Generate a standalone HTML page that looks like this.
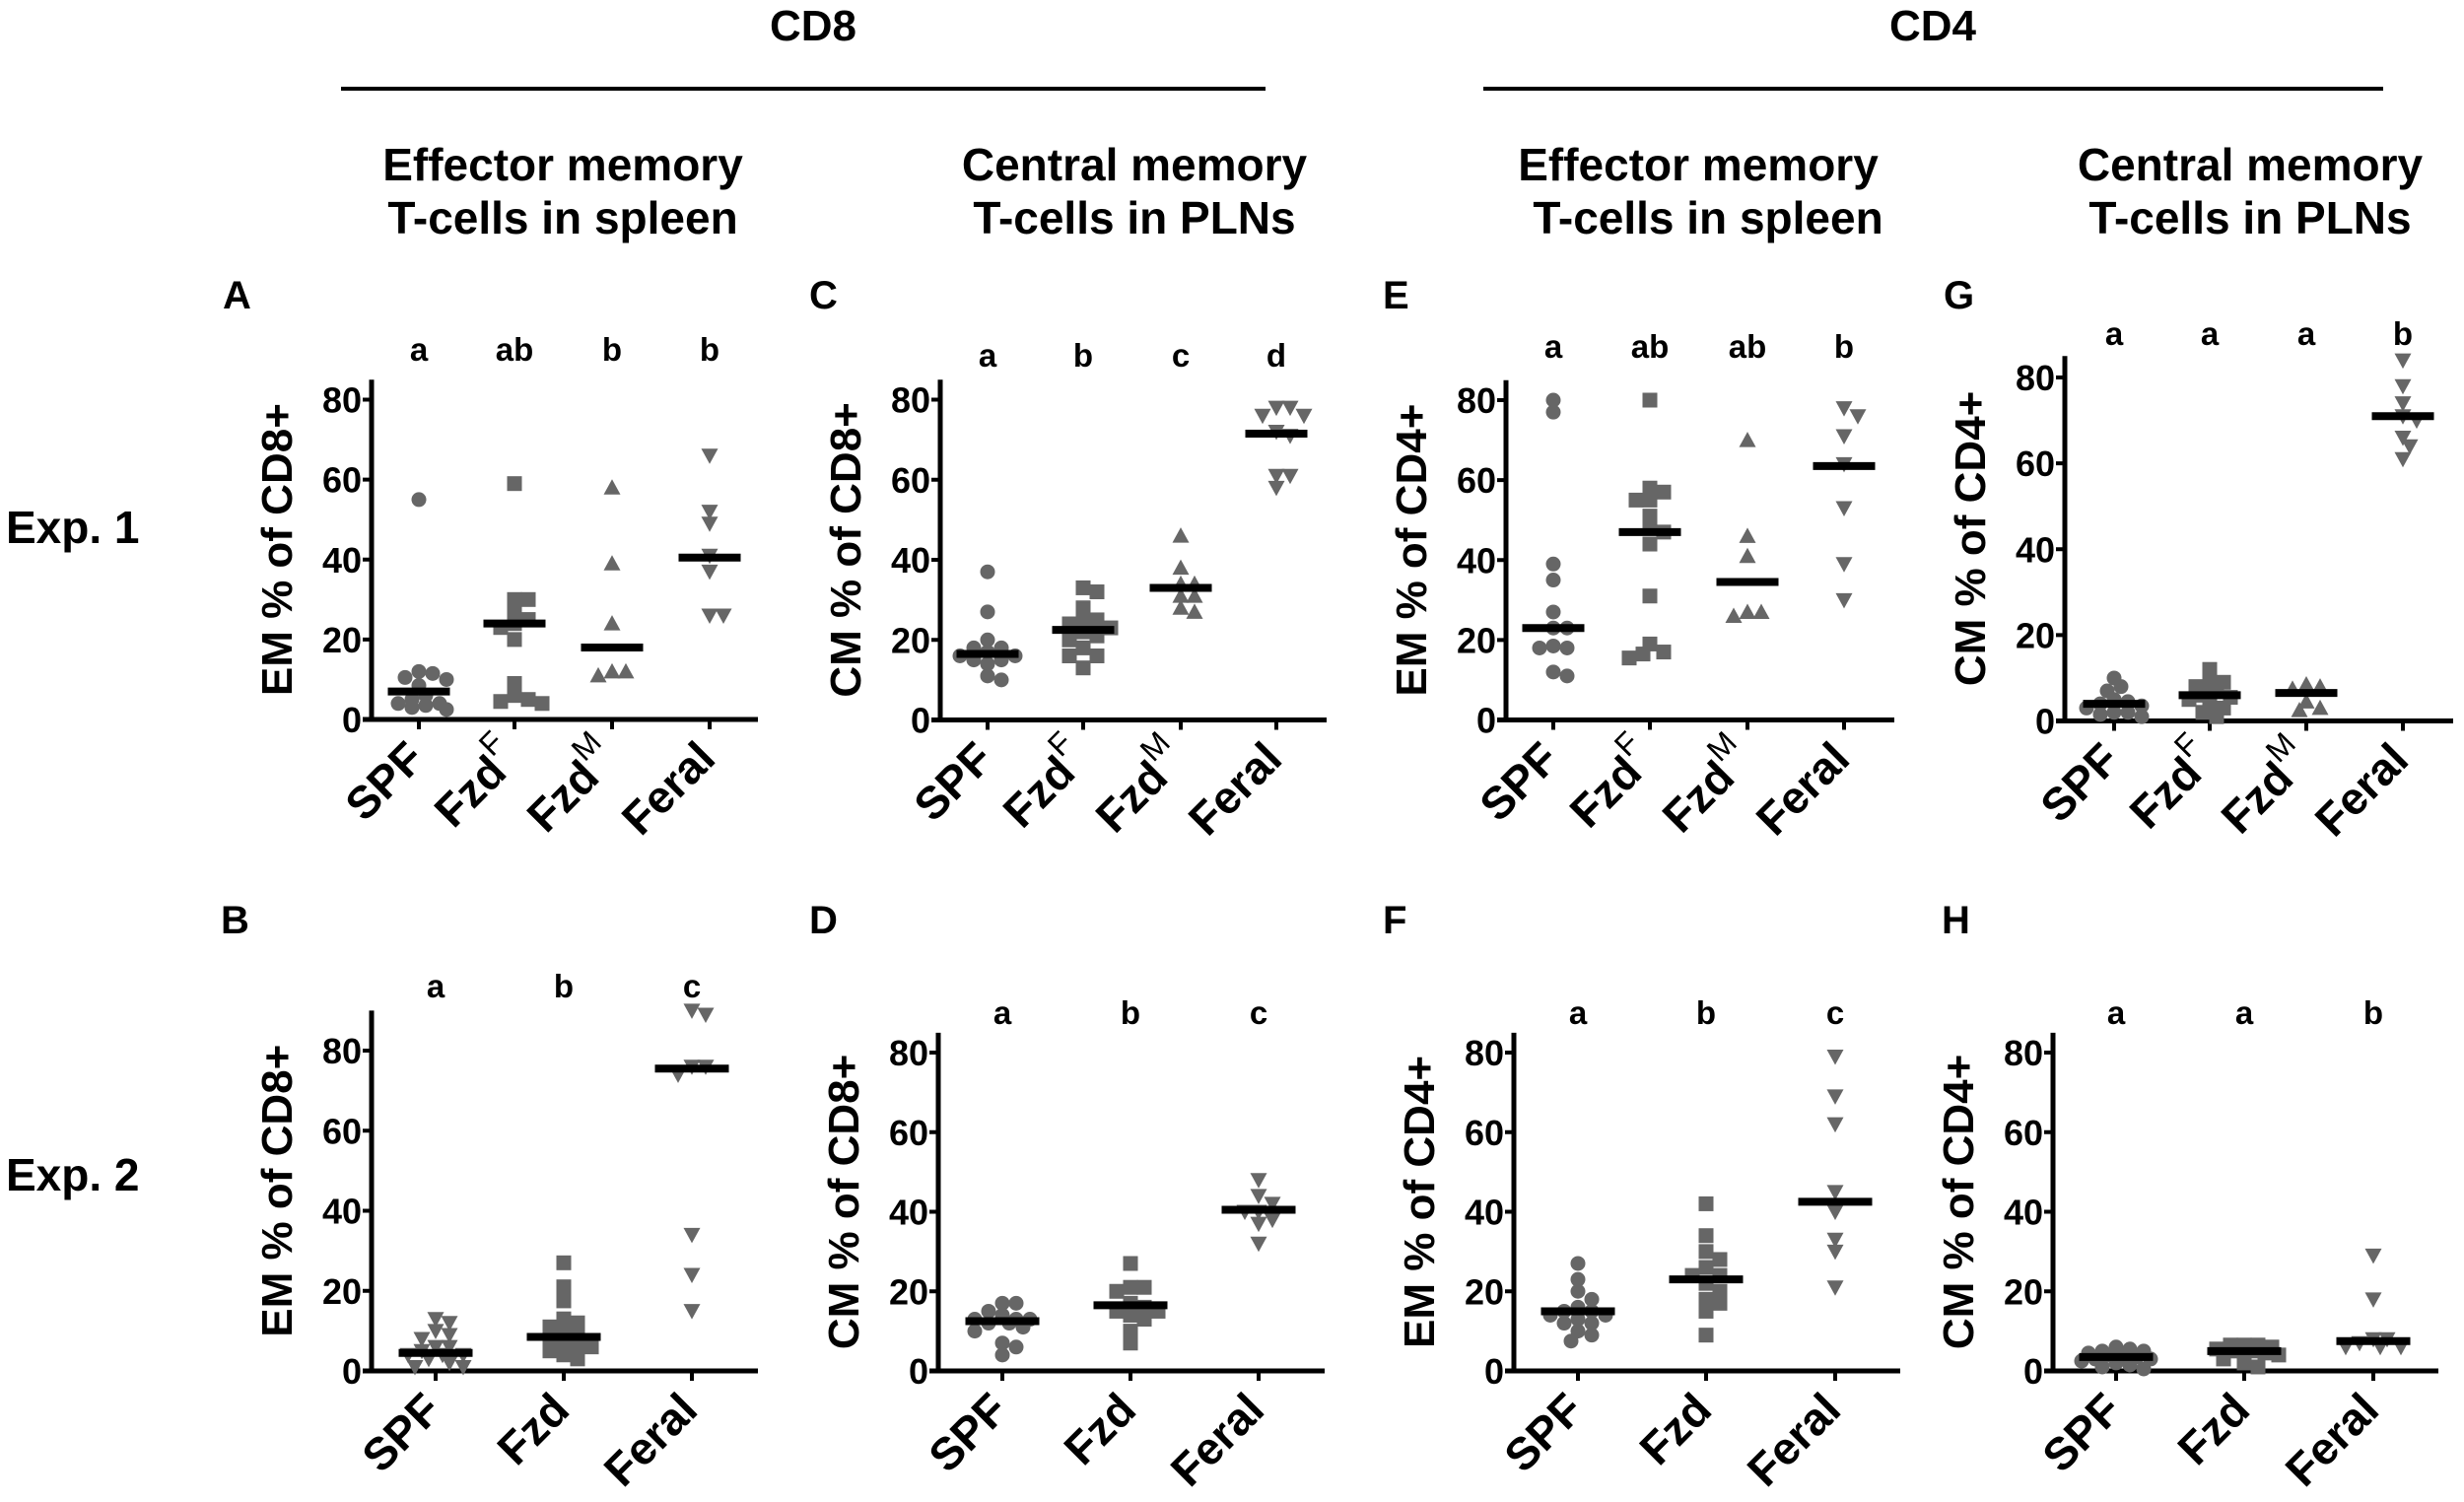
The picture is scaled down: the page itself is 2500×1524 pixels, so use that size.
<!DOCTYPE html>
<html><head><meta charset="utf-8"><style>
html,body{margin:0;padding:0;background:#fff}
svg{display:block;font-family:"Liberation Sans",Arial,sans-serif;font-weight:bold}
</style></head><body>
<svg id="fig" width="2500" height="1524" viewBox="0 0 2500 1524" xmlns="http://www.w3.org/2000/svg">
<g>
<text x="825" y="41" font-size="44" text-anchor="middle">CD8</text>
<line x1="346" y1="90" x2="1284" y2="90" stroke="#000" stroke-width="4"/>
<text x="1961" y="41" font-size="44" text-anchor="middle">CD4</text>
<line x1="1505" y1="90" x2="2418" y2="90" stroke="#000" stroke-width="4"/>
<text x="571" y="183" font-size="46" text-anchor="middle"><tspan x="571">Effector memory</tspan><tspan x="571" dy="54">T-cells in spleen</tspan></text>
<text x="1151" y="183" font-size="46" text-anchor="middle"><tspan x="1151">Central memory</tspan><tspan x="1151" dy="54">T-cells in PLNs</tspan></text>
<text x="1723" y="183" font-size="46" text-anchor="middle"><tspan x="1723">Effector memory</tspan><tspan x="1733" dy="54">T-cells in spleen</tspan></text>
<text x="2283" y="183" font-size="46" text-anchor="middle"><tspan x="2283">Central memory</tspan><tspan x="2283" dy="54">T-cells in PLNs</tspan></text>
<text x="6" y="551" font-size="46">Exp. 1</text>
<text x="6" y="1208" font-size="46">Exp. 2</text>
</g>
</svg>
<script>
// ---- data ----
const catsExp1 = ["SPF","FzdF","FzdM","Feral"];
const catsExp2 = ["SPF","Fzd","Feral"];
const yTicks = [0,20,40,60,80];
const lettersA = ["a","ab","b","b"];
const lettersB = ["a","b","c"];
const lettersC = ["a","b","c","d"];
const lettersD = ["a","b","c"];
const lettersE = ["a","ab","ab","b"];
const lettersF = ["a","b","c"];
const lettersG = ["a","a","a","b"];
const lettersH = ["a","a","b"];
const A_SPF=[55,11.5,12,10,10.5,8.5,6,5,4,3.5,3,2.5,4];
const A_FzdF=[59,30,30,27,25,24,23,20,9,6,5,4,4.5];
const A_FzdM=[58,39,24,12,11,12];
const A_Feral=[66,52,49,41,37,26,26];
const A_med=[7,24,18,40.5];
const B_SPF=[13,12,10,9,8,6,6,5,4,4,4,3,2,1,1];
const B_Fzd=[27,21,17.5,13,11,12,10,9,8,7,6,6,5,3,4];
const B_Feral=[89,90,76,76,74,34,24,15];
const B_med=[4.5,8.5,75.5];
const C_SPF=[37,27,20,18,18,17,16,15,14,15,10,11,16];
const C_FzdF=[33,32,28,25,25,24,23,22,21,20,18,16,16,13];
const C_FzdM=[46,38,34,34,31,31,27,28];
const C_Feral=[78,78,76,76,72,71,61,58,61];
const C_med=[16.5,22.5,33,71.5];
const D_SPF=[17,17,15,14,13,13,12,12,11,10,13,7,6,4];
const D_Fzd=[27,21,21,20,17,16,15,15,14,13,10,7];
const D_Feral=[48,44,42,40,40,38,37,32];
const D_med=[12.5,16.5,40.5];
const E_SPF=[80,77,39,35,27,23,23,18,18,18.5,12,11];
const E_FzdF=[80,58,57,55,55,51,48,47,44,31,19,17,16.5,15.5];
const E_FzdM=[70,46,41,27,26,27];
const E_Feral=[78,76,71,64,53,39,30];
const E_med=[23,47,34.5,63.5];
const F_SPF=[27,23,20,18,16,15,15,14,14,13,12,12,10,9,7.5];
const F_Fzd=[42,34,30,28,26,24,24,22,20,18,17,15,9];
const F_Feral=[79,69,62,45,40,33,30,21];
const F_med=[15,23,42.5];
const G_SPF=[10,8,7,5,4.5,4,3,2,1.5,1,3.5,2];
const G_FzdF=[12,9,9,8,7,6,5.5,5,4,3,2,1];
const G_FzdM=[8.5,8,7.5,4.5,2.5,3];
const G_Feral=[84,78,74,71,70,66,64,61];
const G_med=[4,6,6.5,71];
const H_SPF=[6,5.5,5,5,4.5,4,3,3,2.5,2,1.5,1,0.5,3.5,4];
const H_Fzd=[6.5,6.5,6.5,6,5.5,5,4.5,4,3,2,1,5];
const H_Feral=[29,18,8,8,6,6,6,7];
const H_med=[3.5,5,7.5];

// ---- layout (pixels) ----
const NS="http://www.w3.org/2000/svg";
const svg=document.getElementById('fig');
function el(tag,attrs,parent){const e=document.createElementNS(NS,tag);for(const k in attrs)e.setAttribute(k,attrs[k]);(parent||svg).appendChild(e);return e;}

const panels=[
 {id:"A",ax:377,y0:730,y80:405.5,ymax:85,xs:[425,522,621,720],xe:769,ly:366,lab:[226,313],cats:catsExp1,letters:lettersA,groups:[A_SPF,A_FzdF,A_FzdM,A_Feral],shapes:["circle","square","up","down"],med:A_med,title:"EM % of CD8+",bw:63},
 {id:"C",ax:954,y0:730.5,y80:405.5,ymax:85,xs:[1002,1099,1198,1295],xe:1346,ly:372,lab:[821,313],cats:catsExp1,letters:lettersC,groups:[C_SPF,C_FzdF,C_FzdM,C_Feral],shapes:["circle","square","up","down"],med:C_med,title:"CM % of CD8+",bw:63},
 {id:"E",ax:1528,y0:730.5,y80:406,ymax:85,xs:[1576,1674,1773,1871],xe:1922,ly:363,lab:[1403,313],cats:catsExp1,letters:lettersE,groups:[E_SPF,E_FzdF,E_FzdM,E_Feral],shapes:["circle","square","up","down"],med:E_med,title:"EM % of CD4+",bw:63},
 {id:"G",ax:2095,y0:731.5,y80:383,ymax:85,xs:[2145,2242,2340,2438],xe:2489,ly:350,lab:[1972,313],cats:catsExp1,letters:lettersG,groups:[G_SPF,G_FzdF,G_FzdM,G_Feral],shapes:["circle","square","up","down"],med:G_med,title:"CM % of CD4+",bw:63},
 {id:"B",ax:377,y0:1391,y80:1066,ymax:90,xs:[442,572,702],xe:769,ly:1012,lab:[224,947],cats:catsExp2,letters:lettersB,groups:[B_SPF,B_Fzd,B_Feral],shapes:["down","square","down"],med:B_med,title:"EM % of CD8+",bw:75},
 {id:"D",ax:952,y0:1391,y80:1068,ymax:85,xs:[1017,1147,1277],xe:1344,ly:1039,lab:[821,947],cats:catsExp2,letters:lettersD,groups:[D_SPF,D_Fzd,D_Feral],shapes:["circle","square","down"],med:D_med,title:"CM % of CD8+",bw:75},
 {id:"F",ax:1536,y0:1391,y80:1068,ymax:85,xs:[1601,1731,1862],xe:1928,ly:1039,lab:[1403,947],cats:catsExp2,letters:lettersF,groups:[F_SPF,F_Fzd,F_Feral],shapes:["circle","square","down"],med:F_med,title:"EM % of CD4+",bw:75},
 {id:"H",ax:2083,y0:1391,y80:1068,ymax:85,xs:[2147,2277,2408],xe:2474,ly:1039,lab:[1970,947],cats:catsExp2,letters:lettersH,groups:[H_SPF,H_Fzd,H_Feral],shapes:["circle","square","down"],med:H_med,title:"CM % of CD4+",bw:75}
];

function beeswarm(vals,yf,maxOff){
  const placed=[];const R=11;
  const order=vals.map((v,i)=>i).sort((a,b)=>vals[b]-vals[a]);
  const res=new Array(vals.length);
  order.forEach(i=>{
    const y=yf(vals[i]);let best=0,bestScore=Infinity;
    for(let k=0;k<40;k++){
      const cand=(k===0)?0:((k%2?1:-1)*Math.ceil(k/2)*7);
      if(Math.abs(cand)>maxOff) break;
      let minD=Infinity;placed.forEach(p=>{minD=Math.min(minD,Math.hypot(p[0]-cand,p[1]-y));});
      if(minD>=R){best=cand;bestScore=-1;break;}
      const score=-minD;
      if(score<bestScore){bestScore=score;best=cand;}
    }
    placed.push([best,y]);res[i]=best;
  });
  return res;
}

function marker(g,shape,x,y){
  const f="#666";let m;
  if(shape==="circle") m=el("circle",{cx:x,cy:y,r:7.5,fill:f},g);
  else if(shape==="square") m=el("rect",{x:x-7.5,y:y-7.5,width:15,height:15,fill:f},g);
  else if(shape==="up") m=el("polygon",{points:`${x},${y-8.5} ${x+8.5},${y+7} ${x-8.5},${y+7}`,fill:f},g);
  else m=el("polygon",{points:`${x},${y+8.5} ${x+8.5},${y-7} ${x-8.5},${y-7}`,fill:f},g);
  return m;
}

panels.forEach(p=>{
  const g=el("g",{});
  
  
  const yf=v=>p.y0-(p.y0-p.y80)*v/80;
  const lab=el("text",{x:p.lab[0],y:p.lab[1],"font-size":40},g);
  lab.textContent=p.id;
  
  
  const ya=el("line",{x1:p.ax,y1:yf(p.ymax),x2:p.ax,y2:p.y0+2,stroke:"#000","stroke-width":5},g);
  
  
  const xa=el("line",{x1:p.ax-9,y1:p.y0,x2:p.xe,y2:p.y0,stroke:"#000","stroke-width":5},g);
  
  
  yTicks.forEach(t=>{
    el("line",{x1:p.ax-9,y1:yf(t),x2:p.ax,y2:yf(t),stroke:"#000","stroke-width":4},g);
    const tl=el("text",{x:p.ax-10,y:yf(t)+13,"font-size":36,"text-anchor":"end"},g);
    tl.textContent=t;
    
    
  });
  const cy=(yf(p.ymax)+p.y0)/2;
  const tx=p.ax-81;
  const yt=el("text",{x:tx,y:cy,"font-size":44,"text-anchor":"middle",transform:`rotate(-90 ${tx} ${cy})`},g);
  yt.textContent=p.title;
  
  
  p.cats.forEach((c,i)=>{
    const x=p.xs[i];
    el("line",{x1:x,y1:p.y0,x2:x,y2:p.y0+10,stroke:"#000","stroke-width":4},g);
    const ax=x+8,ay=p.y0+42;
    const t=el("text",{x:ax,y:ay,"font-size":46,"text-anchor":"end",transform:`rotate(-45 ${ax} ${ay})`},g);
    if(c.length===4&&c.startsWith("Fzd")){
      const a=el("tspan",{},t);a.textContent="Fzd";
      const s=el("tspan",{"font-weight":"normal","font-size":32,dy:-24},t);s.textContent=c[3];
    } else t.textContent=c;
    
    
    const lt=el("text",{x:x,y:p.ly,"font-size":33,"text-anchor":"middle"},g);
    lt.textContent=p.letters[i];
    
    
    const vals=p.groups[i];
    const dxs=beeswarm(vals,yf,p.bw/2-2);
    vals.forEach((v,j)=>{
      const m=marker(g,p.shapes[i],x+dxs[j],yf(v));
      
      
    });
    const mb=el("line",{x1:x-p.bw/2,y1:yf(p.med[i]),x2:x+p.bw/2,y2:yf(p.med[i]),stroke:"#000","stroke-width":8},g);
    
    
  });
});
</script>
</body></html>
